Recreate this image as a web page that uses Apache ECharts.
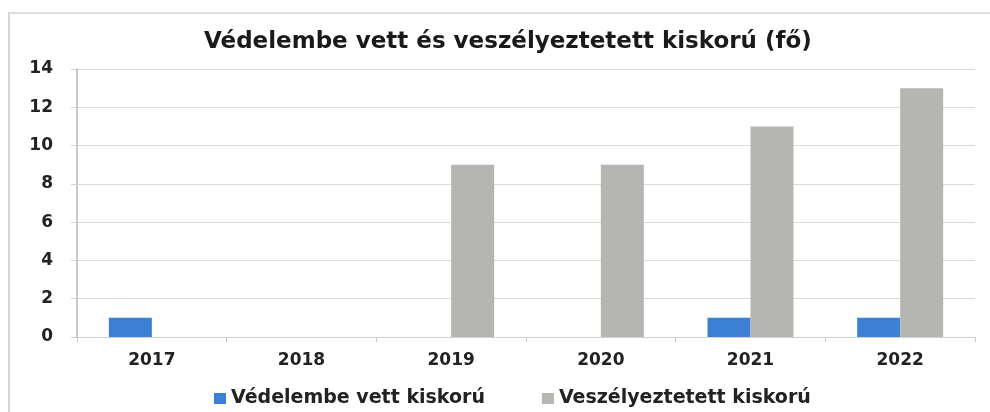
<!DOCTYPE html>
<html><head><meta charset="utf-8">
<script src="https://cdn.jsdelivr.net/npm/echarts@6/dist/echarts.min.js"></script>
<style>
html,body{margin:0;padding:0;background:#fff;}
#frame{position:absolute;left:8px;top:12px;width:990px;height:420px;border-left:2px solid #d4d4d4;border-top:2px solid #dcdcdc;}
#c{position:absolute;left:0;top:0;width:990px;height:412px;}
</style></head>
<body>
<div id="frame"></div>
<div id="c"></div>
<script>
const titleText = 'Védelembe vett és veszélyeztetett kiskorú (fő)';
const categories = ['2017','2018','2019','2020','2021','2022'];
const seriesNames = ['Védelembe vett kiskorú','Veszélyeztetett kiskorú'];
const vedelembeVett = [1,0,0,0,1,1];
const veszelyeztetett = [0,0,9,9,11,13];
const yTicks = [0,2,4,6,8,10,12,14];

const chart = echarts.init(document.getElementById('c'), null, {renderer:'canvas'});
chart.setOption({
  backgroundColor:'transparent',
  animation:false,
  title:{text:titleText,left:199,top:26,textStyle:{fontFamily:'DejaVu Sans',fontWeight:'bold',fontSize:23,color:'#1a1a1a'}},
  legend:{top:384,left:209,itemWidth:12,itemHeight:11,itemGap:57,icon:'rect',
    textStyle:{fontFamily:'DejaVu Sans',fontWeight:'bold',fontSize:19,color:'#222'}},
  grid:{left:77,right:15,top:69,bottom:75,containLabel:false},
  xAxis:{type:'category',data:categories,
    axisLine:{show:true,lineStyle:{color:'#d0d0d0',width:1}},
    axisTick:{show:true,length:5,lineStyle:{color:'#c8c8c8'}},
    axisLabel:{margin:15,fontFamily:'DejaVu Sans',fontWeight:'bold',fontSize:17,color:'#222'}},
  yAxis:{type:'value',min:yTicks[0],max:yTicks[yTicks.length-1],interval:2,
    axisLine:{show:true,lineStyle:{color:'#c8c8c8',width:2}},
    axisTick:{show:true,length:6,lineStyle:{color:'#d0d0d0'}},
    splitLine:{lineStyle:{color:'#d9d9d9',width:1}},
    axisLabel:{margin:24,fontFamily:'DejaVu Sans',fontWeight:'bold',fontSize:17,color:'#222'}},
  series:[
    {name:seriesNames[0],type:'bar',data:vedelembeVett,barWidth:43,barGap:'0%',itemStyle:{color:'#3b80d4'}},
    {name:seriesNames[1],type:'bar',data:veszelyeztetett,barWidth:43,barGap:'0%',itemStyle:{color:'#b5b5b1'}}
  ]
});
</script>
</body></html>
